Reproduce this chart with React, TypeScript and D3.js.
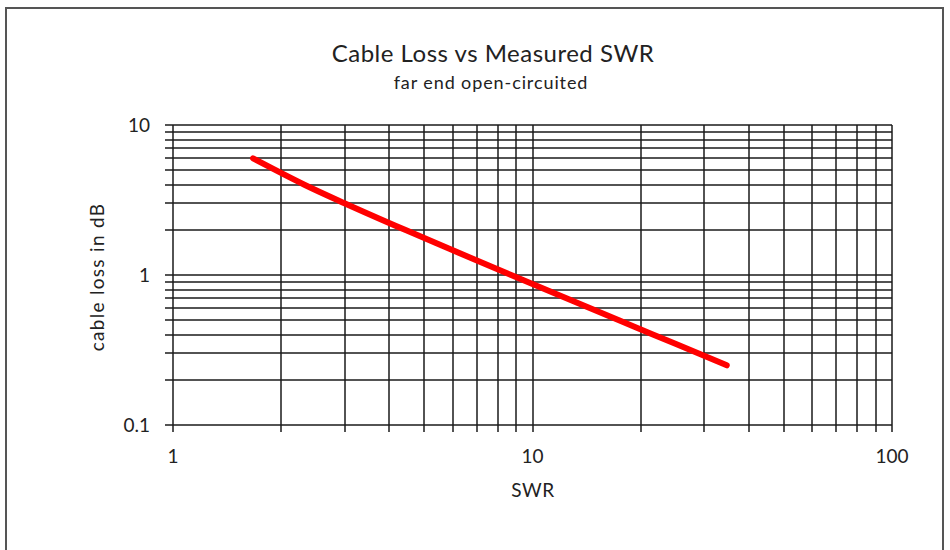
import React, { useEffect, useRef } from "react";
import * as d3 from "d3";

// values (SWR vs cable loss, far end open)
const swr = [1.67, 1.93, 2.32, 3.01, 4.42, 5.85, 8.72, 11.6, 17.4, 21.7, 29.0, 34.7];
const lossDb = [6, 5, 4, 3, 2, 1.5, 1, 0.75, 0.5, 0.4, 0.3, 0.25];
const xTickLabels = [1, 10, 100];
const yTickLabels = [0.1, 1, 10];

const W = 950;
const H = 550;
const font = "Lato, 'Open Sans', sans-serif";

const App = () => {
  const ref = useRef<SVGSVGElement>(null);

  useEffect(() => {
    document.body.style.margin = "0";
    const svg = d3.select(ref.current);
    svg.selectAll("*").remove();

    const left = 173,
      right = 892,
      top = 125,
      bottom = 425;

    const x = d3.scaleLog().domain([1, 100]).range([left, right]);
    const y = d3.scaleLog().domain([0.1, 10]).range([bottom, top]);

    // outer frame
    svg
      .append("rect")
      .attr("x", 6)
      .attr("y", 8)
      .attr("width", 937)
      .attr("height", 560)
      .attr("fill", "#fff")
      .attr("stroke", "#555")
      .attr("stroke-width", 2);

    // grid: every 1..9 per decade
    const xGrid: number[] = [];
    for (let d = 1; d < 100; d *= 10) for (let k = 1; k < 10; k++) xGrid.push(k * d);
    xGrid.push(100);
    const yGrid: number[] = [];
    for (let d = 0.1; d < 9; d *= 10) for (let k = 1; k < 10; k++) yGrid.push(+(k * d).toFixed(2));
    yGrid.push(10);

    const g = svg.append("g").attr("stroke", "#1a1a1a").attr("stroke-width", 1.5);
    g.selectAll(".hg")
      .data(yGrid)
      .enter()
      .append("line")
      .attr("x1", left - 8)
      .attr("x2", right)
      .attr("y1", (d) => Math.round(y(d)))
      .attr("y2", (d) => Math.round(y(d)));
    g.selectAll(".vg")
      .data(xGrid)
      .enter()
      .append("line")
      .attr("y1", top)
      .attr("y2", bottom + 7)
      .attr("x1", (d) => Math.round(x(d)))
      .attr("x2", (d) => Math.round(x(d)));

    // tick labels
    svg
      .selectAll(".yl")
      .data(yTickLabels)
      .enter()
      .append("text")
      .attr("x", left - 23)
      .attr("y", (d) => y(d) + 7)
      .attr("text-anchor", "end")
      .attr("font-family", font)
      .attr("font-size", 19)
      .attr("fill", "#222")
      .text((d) => String(d));
    svg
      .selectAll(".xl")
      .data(xTickLabels)
      .enter()
      .append("text")
      .attr("x", (d) => x(d))
      .attr("y", 463)
      .attr("text-anchor", "middle")
      .attr("font-family", font)
      .attr("font-size", 19)
      .attr("fill", "#222")
      .text((d) => String(d));

    // series
    const line = d3
      .line<number>()
      .x((d, i) => x(swr[i]))
      .y((d) => y(d))
      .curve(d3.curveMonotoneX);
    svg
      .append("path")
      .attr("d", line(lossDb))
      .attr("fill", "none")
      .attr("stroke", "#f00")
      .attr("stroke-width", 6)
      .attr("stroke-linecap", "round");

    // titles
    svg
      .append("text")
      .attr("x", 493)
      .attr("y", 62)
      .attr("text-anchor", "middle")
      .attr("font-family", font)
      .attr("font-size", 24)
      .attr("letter-spacing", 0.5)
      .attr("fill", "#222")
      .text("Cable Loss vs Measured SWR");
    svg
      .append("text")
      .attr("x", 491)
      .attr("y", 89)
      .attr("text-anchor", "middle")
      .attr("font-family", font)
      .attr("font-size", 18)
      .attr("letter-spacing", 0.9)
      .attr("fill", "#222")
      .text("far end open-circuited");
    svg
      .append("text")
      .attr("x", 533)
      .attr("y", 497)
      .attr("text-anchor", "middle")
      .attr("font-family", font)
      .attr("font-size", 19)
      .attr("letter-spacing", 0.5)
      .attr("fill", "#222")
      .text("SWR");
    svg
      .append("text")
      .attr("transform", `translate(96, 277) rotate(-90)`)
      .attr("text-anchor", "middle")
      .attr("dominant-baseline", "central")
      .attr("font-family", font)
      .attr("font-size", 19)
      .attr("letter-spacing", 1.3)
      .attr("fill", "#222")
      .text("cable loss in dB");
  }, []);

  return <svg ref={ref} width={W} height={H} style={{ display: "block" }} />;
};

export default App;
